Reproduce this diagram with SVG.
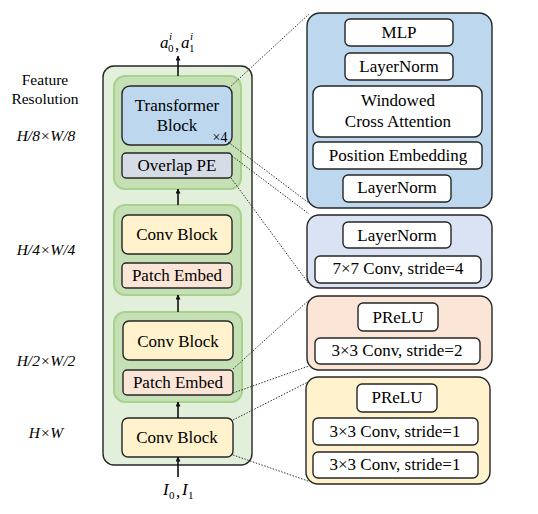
<svg xmlns="http://www.w3.org/2000/svg" width="538" height="514" viewBox="0 0 538 514" font-family="'Liberation Serif', 'Times New Roman', serif">
<style>
text{font-family:'Liberation Serif','Times New Roman',serif;fill:#000;}
.t{font-size:17px;text-anchor:middle;}
.lbl{font-size:15.5px;text-anchor:middle;}
.m{font-style:italic;}
.box{stroke:#262626;stroke-width:1.4;}
.outer{fill:#e2efda;stroke:#262626;stroke-width:1.4;}
.grp{fill:#c5e0b4;stroke:#a9d18e;stroke-width:2;}
.tb{fill:#bdd7ee;}
.pe{fill:#d6dce5;}
.cb{fill:#fff2cc;}
.pa{fill:#fbe5d6;}
.lb{fill:#dae3f3;}
.w{fill:#fff;}
.dot{stroke:#333;stroke-width:1;stroke-dasharray:1.5 1.5;fill:none;}
.arr{stroke:#111;stroke-width:1.6;fill:none;marker-end:url(#ah);}
</style>
<defs>
<marker id="ah" viewBox="0 0 10 10" refX="9" refY="5" markerWidth="5" markerHeight="5" orient="auto" markerUnits="userSpaceOnUse">
<path d="M0,0 L10,5 L0,10 z" fill="#111"/>
</marker>
</defs>

<g id="labels">
<text class="lbl" x="45" y="85">Feature</text>
<text class="lbl" x="45" y="104">Resolution</text>
<text class="lbl m" x="46" y="141">H/8×W/8</text>
<text class="lbl m" x="46" y="255">H/4×W/4</text>
<text class="lbl m" x="46" y="366">H/2×W/2</text>
<text class="lbl m" x="46" y="438">H×W</text>
<text class="m" x="160" y="48" font-size="17">a</text>
<text class="m" x="169" y="40" font-size="11">i</text>
<text x="168" y="52" font-size="11">0</text>
<text x="175" y="50" font-size="17">,</text>
<text class="m" x="181" y="48" font-size="17">a</text>
<text class="m" x="190" y="40" font-size="11">i</text>
<text x="189" y="52" font-size="11">1</text>
<text class="m" x="163" y="495" font-size="17">I</text>
<text x="169" y="499" font-size="11">0</text>
<text x="176" y="497" font-size="17">,</text>
<text class="m" x="182" y="495" font-size="17">I</text>
<text x="188" y="499" font-size="11">1</text>
</g>

<g id="encoder">
<rect class="outer" x="103" y="66" width="149" height="399" rx="11"/>
</g>

<g id="stage3">
<rect class="grp" x="114" y="76" width="127" height="113" rx="11"/>
<g id="transformer-block">
<rect class="box tb" x="122" y="86" width="110" height="59" rx="8"/>
<text class="t" x="177" y="111">Transformer</text>
<text class="t" x="177" y="131">Block</text>
<text x="220" y="142" font-size="14" text-anchor="middle">×4</text>
</g>
<g id="overlap-pe">
<rect class="box pe" x="122" y="153" width="110" height="25" rx="4"/>
<text class="t" x="177" y="171">Overlap PE</text>
</g>
</g>

<g id="stage2">
<rect class="grp" x="114" y="205" width="127" height="90" rx="11"/>
<g id="conv-block-2">
<rect class="box cb" x="122" y="215" width="110" height="39" rx="6"/>
<text class="t" x="177" y="240">Conv Block</text>
</g>
<g id="patch-embed-2">
<rect class="box pa" x="122" y="263" width="110" height="25" rx="4"/>
<text class="t" x="177" y="281">Patch Embed</text>
</g>
</g>

<g id="stage1">
<rect class="grp" x="114" y="312" width="128" height="90" rx="11"/>
<g id="conv-block-1">
<rect class="box cb" x="123" y="321" width="110" height="39" rx="6"/>
<text class="t" x="178" y="347">Conv Block</text>
</g>
<g id="patch-embed-1">
<rect class="box pa" x="123" y="370" width="110" height="25" rx="4"/>
<text class="t" x="178" y="388">Patch Embed</text>
</g>
</g>

<g id="conv-block-0">
<rect class="box cb" x="122" y="418" width="111" height="39" rx="6"/>
<text class="t" x="177" y="443">Conv Block</text>
</g>

<g id="transformer-detail">
<rect class="box tb" x="307" y="13" width="185" height="195" rx="13"/>
<rect class="box w" x="345" y="19" width="108" height="27" rx="5"/>
<text class="t" x="399" y="38">MLP</text>
<rect class="box w" x="345" y="53" width="108" height="27" rx="5"/>
<text class="t" x="399" y="72">LayerNorm</text>
<rect class="box w" x="313" y="86" width="169" height="51" rx="8"/>
<text class="t" x="398" y="106">Windowed</text>
<text class="t" x="398" y="127">Cross Attention</text>
<rect class="box w" x="313" y="142" width="169" height="27" rx="5"/>
<text class="t" x="398" y="161">Position Embedding</text>
<rect class="box w" x="343" y="175" width="108" height="27" rx="5"/>
<text class="t" x="397" y="193">LayerNorm</text>
</g>

<g id="overlap-pe-detail">
<rect class="box lb" x="307" y="215" width="185" height="73" rx="12"/>
<rect class="box w" x="343" y="222" width="108" height="26" rx="5"/>
<text class="t" x="397" y="241">LayerNorm</text>
<rect class="box w" x="315" y="256" width="166" height="27" rx="5"/>
<text class="t" x="398" y="274">7×7 Conv, stride=4</text>
</g>

<g id="patch-embed-detail">
<rect class="box pa" x="307" y="296" width="185" height="74" rx="12"/>
<rect class="box w" x="358" y="303" width="80" height="28" rx="5"/>
<text class="t" x="398" y="323">PReLU</text>
<rect class="box w" x="315" y="338" width="165" height="26" rx="5"/>
<text class="t" x="397" y="356">3×3 Conv, stride=2</text>
</g>

<g id="conv-block-detail">
<rect class="box cb" x="306" y="377" width="184" height="107" rx="12"/>
<rect class="box w" x="357" y="384" width="80" height="28" rx="5"/>
<text class="t" x="397" y="403">PReLU</text>
<rect class="box w" x="313" y="418" width="165" height="27" rx="5"/>
<text class="t" x="395" y="437">3×3 Conv, stride=1</text>
<rect class="box w" x="313" y="452" width="165" height="26" rx="5"/>
<text class="t" x="395" y="470">3×3 Conv, stride=1</text>
</g>

<g id="connectors">
<line class="arr" x1="178" y1="76" x2="178" y2="56"/>
<line class="arr" x1="178" y1="205" x2="178" y2="189"/>
<line class="arr" x1="178" y1="312" x2="178" y2="295"/>
<line class="arr" x1="178" y1="418" x2="178" y2="402"/>
<line class="arr" x1="178" y1="477" x2="178" y2="457"/>
<line class="dot" x1="229" y1="88" x2="309" y2="14"/>
<line class="dot" x1="228" y1="142" x2="309" y2="203"/>
<line class="dot" x1="232" y1="156" x2="309" y2="214"/>
<line class="dot" x1="231" y1="178" x2="309" y2="284"/>
<line class="dot" x1="233" y1="369" x2="309" y2="300"/>
<line class="dot" x1="233" y1="393" x2="309" y2="366"/>
<line class="dot" x1="233" y1="420" x2="308" y2="382"/>
<line class="dot" x1="233" y1="455" x2="308" y2="481"/>
</g>
</svg>
